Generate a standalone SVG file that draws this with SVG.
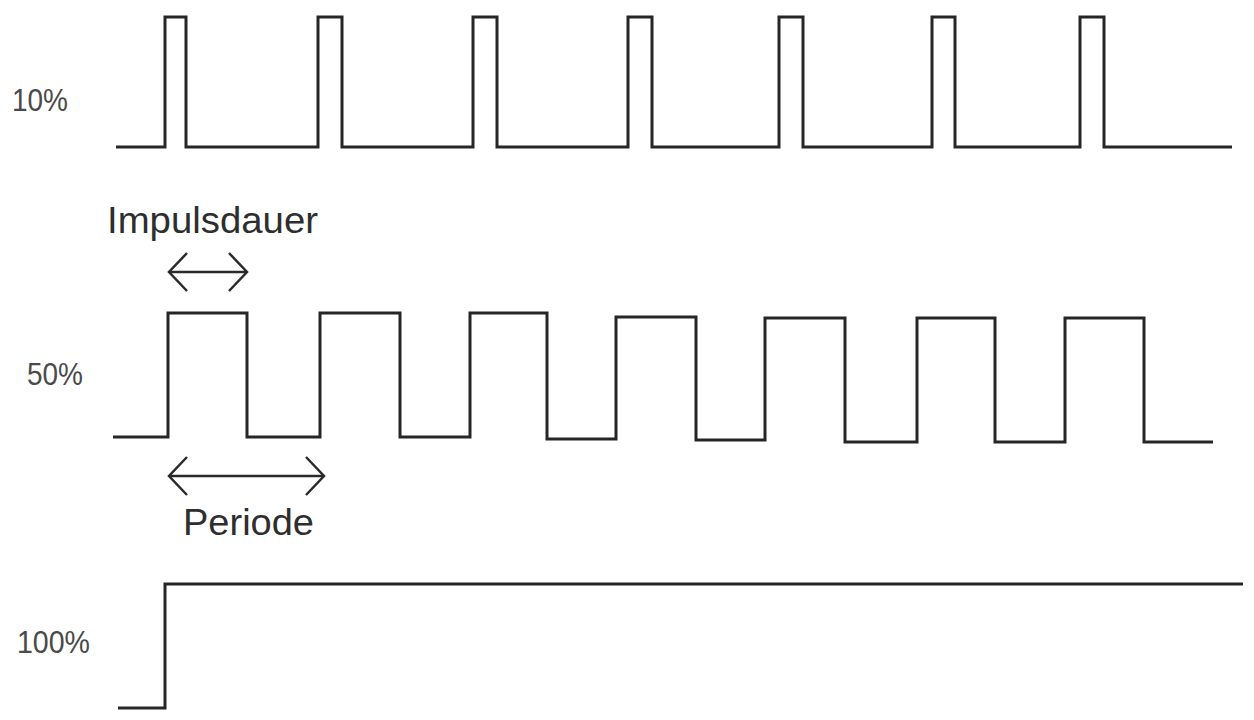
<svg xmlns="http://www.w3.org/2000/svg" width="1254" height="720" viewBox="0 0 1254 720">
<style>
.wave{fill:none;stroke:#262626;stroke-width:3;stroke-linejoin:miter;stroke-linecap:butt}
.arr{fill:none;stroke:#2a2a2a;stroke-width:2.5}
.lbl{font-family:"Liberation Sans",Arial,sans-serif;fill:#4a4a4a;font-size:31px}
.cap{font-family:"Liberation Sans",Arial,sans-serif;fill:#2e2e2e;font-size:37px}
</style>
<defs>
<marker id="head" markerUnits="userSpaceOnUse" markerWidth="24" markerHeight="44" refX="20" refY="22" orient="auto-start-reverse" viewBox="0 0 24 44">
<path d="M2 3 L20 22 L2 41" fill="none" stroke="#2a2a2a" stroke-width="2.5"/>
</marker>
</defs>
<rect width="1254" height="720" fill="#ffffff"/>
<g id="row-10">
<path class="wave" d="M116 147 H165 V17 H186 V147 H318 V17 H342 V147 H473 V17 H497 V147 H628 V17 H652 V147 H779 V17 H803 V147 H932 V17 H955 V147 H1080 V17 H1104 V147 H1232"/>
<text class="lbl" x="12" y="111" textLength="56" lengthAdjust="spacingAndGlyphs">10%</text>
</g>
<g id="row-50">
<path class="wave" d="M113 437 H168 V313 H247 V437 H320 V313 H400 V437 H470 V313 H547 V439 H616 V317 H696 V440 H765 V318 H845 V442 H917 V318 H995 V442 H1065 V318 H1144 V442 H1213"/>
<text class="lbl" x="27" y="385" textLength="56" lengthAdjust="spacingAndGlyphs">50%</text>
</g>
<g id="row-100">
<path class="wave" d="M118 708 H165 V584 H1243"/>
<text class="lbl" x="17" y="653" textLength="73" lengthAdjust="spacingAndGlyphs">100%</text>
</g>
<g id="annotations">
<text class="cap" x="107" y="233" textLength="211" lengthAdjust="spacingAndGlyphs">Impulsdauer</text>
<text class="cap" x="183" y="535" textLength="131" lengthAdjust="spacingAndGlyphs">Periode</text>
</g>
<g id="connectors">
<line class="arr" x1="169" y1="272" x2="247" y2="272" marker-start="url(#head)" marker-end="url(#head)"/>
<line class="arr" x1="169" y1="476" x2="324" y2="476" marker-start="url(#head)" marker-end="url(#head)"/>
</g>
</svg>
